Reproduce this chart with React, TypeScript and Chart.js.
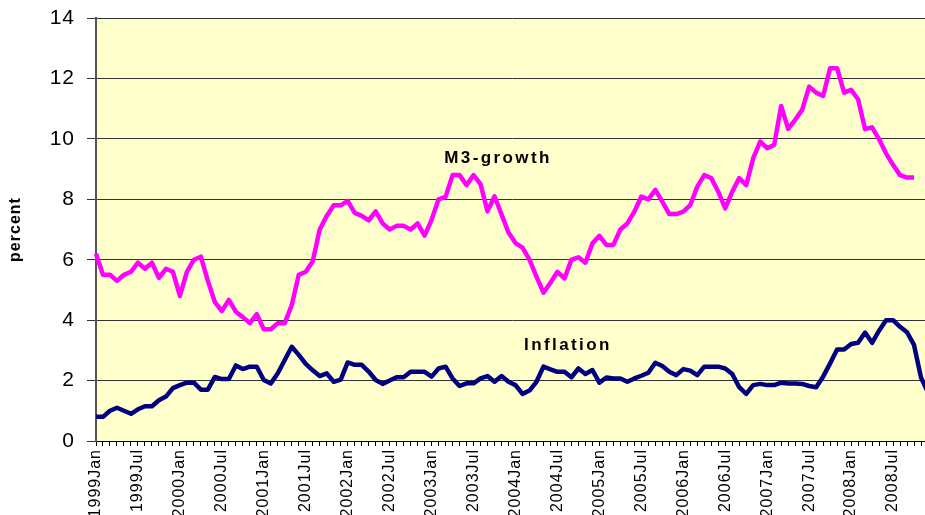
import React, { useEffect, useRef } from 'react';
import { Chart, registerables } from 'chart.js';

Chart.register(...registerables);

// ---- data ----
const years = [1999, 2000, 2001, 2002, 2003, 2004, 2005, 2006, 2007, 2008];
const months = ['Jan', 'Feb', 'Mar', 'Apr', 'May', 'Jun', 'Jul', 'Aug', 'Sep', 'Oct', 'Nov', 'Dec'];
const categories: string[] = years.flatMap((y) => months.map((m) => `${y}${m}`));
const labelEvery = 6;

const m3Growth: (number | null)[] = [
  6.2, 5.5, 5.5, 5.3, 5.5, 5.6, 5.9, 5.7, 5.9, 5.4, 5.7, 5.6,
  4.8, 5.6, 6.0, 6.1, 5.3, 4.6, 4.3, 4.67, 4.28, 4.1, 3.9, 4.2,
  3.7, 3.7, 3.9, 3.9, 4.5, 5.5, 5.6, 5.95, 7.0, 7.45, 7.8, 7.8,
  7.95, 7.55, 7.45, 7.3, 7.6, 7.2, 7.0, 7.12, 7.12, 7.0, 7.2, 6.8,
  7.32, 8.0, 8.08, 8.8, 8.8, 8.47, 8.8, 8.5, 7.6, 8.1, 7.5, 6.9,
  6.55, 6.4, 6.0, 5.44, 4.91, 5.24, 5.6, 5.38, 6.0, 6.08, 5.9, 6.54,
  6.79, 6.49, 6.49, 7.0, 7.2, 7.59, 8.09, 8.0, 8.31, 7.92, 7.51, 7.51,
  7.59, 7.81, 8.42, 8.8, 8.7, 8.25, 7.7, 8.25, 8.7, 8.47, 9.36, 9.91,
  9.69, 9.8, 11.09, 10.33, 10.63, 10.96, 11.73, 11.53, 11.42, 12.34, 12.34, 11.53,
  11.62, 11.31, 10.32, 10.38, 9.99, 9.52, 9.14, 8.8, 8.72, 8.72, null, null,
];

const inflation: number[] = [
  0.8, 0.8, 1.0, 1.1, 1.0, 0.9, 1.05, 1.15, 1.15, 1.35, 1.47, 1.75,
  1.85, 1.93, 1.93, 1.7, 1.7, 2.12, 2.05, 2.05, 2.5, 2.38, 2.46, 2.46,
  2.02, 1.9, 2.24, 2.68, 3.12, 2.85, 2.55, 2.34, 2.15, 2.24, 1.96, 2.03,
  2.6, 2.52, 2.52, 2.3, 2.02, 1.89, 2.0, 2.11, 2.11, 2.29, 2.29, 2.29,
  2.13, 2.4, 2.46, 2.07, 1.82, 1.91, 1.91, 2.07, 2.15, 1.96, 2.15, 1.96,
  1.85, 1.56, 1.67, 1.96, 2.46, 2.37, 2.29, 2.29, 2.11, 2.4, 2.22, 2.35,
  1.93, 2.1, 2.07, 2.07, 1.96, 2.07, 2.16, 2.26, 2.59, 2.48, 2.29, 2.18,
  2.38, 2.33, 2.18, 2.46, 2.46, 2.46, 2.4, 2.22, 1.78, 1.56, 1.85, 1.89,
  1.85, 1.85, 1.93, 1.9, 1.9, 1.89, 1.82, 1.78, 2.13, 2.57, 3.03, 3.03,
  3.21, 3.25, 3.59, 3.25, 3.65, 4.0, 4.0, 3.78, 3.6, 3.18, 2.1, 1.6,
];

const yTicks = { min: 0, max: 14, step: 2 };
const seriesNames = ['M3-growth', 'Inflation'];
const annotationAt = [57.5, 67.5]; // category index of label centre
const annotationValue = [9.37, 3.16];

const FONT = '"Liberation Sans", Arial, Helvetica, sans-serif';

const stylePlugin = {
  id: 'stylePlugin',
  beforeLayout(chart: any) {
    chart.ctx.letterSpacing = '1px';
  },
  beforeDraw(chart: any) {
    const { ctx, chartArea } = chart;
    ctx.letterSpacing = '1px';
    ctx.save();
    ctx.fillStyle = '#FFFFCC';
    ctx.fillRect(chartArea.left, chartArea.top, chartArea.right - chartArea.left, chartArea.bottom - chartArea.top);
    ctx.restore();
  },
  afterDatasetsDraw(chart: any) {
    const { ctx } = chart;
    const xs = chart.scales.x;
    const ys = chart.scales.y;
    ctx.save();
    ctx.font = `bold 17px ${FONT}`;
    ctx.letterSpacing = '2.4px';
    ctx.fillStyle = '#000';
    ctx.textAlign = 'center';
    ctx.textBaseline = 'middle';
    seriesNames.forEach((name, i) => {
      ctx.fillText(name, xs.getPixelForValue(annotationAt[i]), ys.getPixelForValue(annotationValue[i]));
    });
    ctx.restore();
  },
};

export default function App() {
  const ref = useRef<HTMLCanvasElement | null>(null);

  useEffect(() => {
    if (!ref.current) return;
    const chart = new Chart(ref.current, {
      type: 'line',
      data: {
        labels: categories,
        datasets: [
          {
            label: seriesNames[0],
            data: m3Growth,
            borderColor: '#FF00FF',
            backgroundColor: '#FF00FF',
            borderWidth: 4.5,
            pointRadius: 0,
            tension: 0,
            borderJoinStyle: 'round',
            spanGaps: false,
          },
          {
            label: seriesNames[1],
            data: inflation,
            borderColor: '#000080',
            backgroundColor: '#000080',
            borderWidth: 4.5,
            pointRadius: 0,
            tension: 0,
            borderJoinStyle: 'round',
          },
        ],
      },
      options: {
        animation: false,
        responsive: false,
        maintainAspectRatio: false,
        layout: { padding: { top: 18, right: 7, bottom: 0, left: 0 } },
        plugins: {
          legend: { display: false },
          tooltip: { enabled: false },
        },
        scales: {
          x: {
            type: 'category',
            offset: false,
            grid: {
              display: true,
              drawOnChartArea: false,
              drawTicks: true,
              tickLength: 5,
              color: '#000',
            },
            border: { display: true, color: '#000', width: 1 },
            ticks: {
              autoSkip: false,
              minRotation: 90,
              maxRotation: 90,
              padding: 3,
              color: '#000',
              font: { family: FONT, size: 16 },
              callback: (_v: any, index: number) => (index % labelEvery === 0 ? categories[index] : ''),
            },
            afterFit: (scale: any) => {
              scale.height = 74;
              scale.paddingLeft = 0;
              scale.paddingRight = 0;
            },
          },
          y: {
            min: yTicks.min,
            max: yTicks.max,
            grid: {
              color: '#333',
              lineWidth: 1,
              drawTicks: true,
              tickLength: 9,
            },
            border: { display: true, color: '#555', width: 2 },
            ticks: {
              stepSize: yTicks.step,
              padding: 12,
              color: '#000',
              font: { family: FONT, size: 21 },
            },
            title: {
              display: true,
              text: 'percent',
              color: '#000',
              font: { family: FONT, size: 16, weight: 'bold' },
              padding: { top: 6, bottom: 0 },
            },
            afterFit: (scale: any) => {
              scale.width = 96;
              scale.paddingTop = 0;
              scale.paddingBottom = 0;
            },
          },
        },
      },
      plugins: [stylePlugin],
    } as any);
    return () => chart.destroy();
  }, []);

  return (
    <div style={{ position: 'absolute', left: 0, top: 0, width: 925, height: 515, overflow: 'hidden', background: '#fff' }}>
      <canvas ref={ref} width={935} height={515} style={{ display: 'block', width: 935, height: 515 }} />
    </div>
  );
}
